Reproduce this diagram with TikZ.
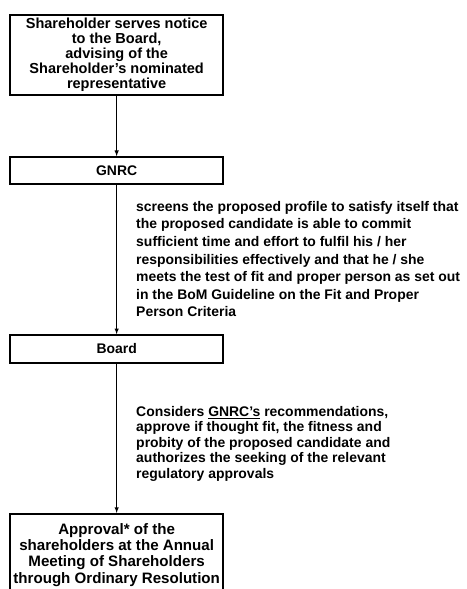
\documentclass[tikz,border=0pt]{standalone}
\usepackage{fontspec}
\setmainfont{Liberation Sans}
\usepackage{tikz}
\usetikzlibrary{arrows,positioning}

\begin{document}
\begin{tikzpicture}[
    box/.style={rectangle, draw, line width=1.3pt, minimum width=6.39cm,
                align=center, inner sep=2pt,
                font=\fontsize{12.4}{12.75}\selectfont\bfseries},
    note/.style={anchor=north west, align=left, inner sep=0pt,
                 font=\fontsize{11.9}{13.2}\selectfont\bfseries},
    arr/.style={->, >=latex, line width=0.7pt}
  ]

  \useasboundingbox (0,0) rectangle (14.01,-17.67);
  \clip (0,0) rectangle (14.01,-17.67);

  % Main vertical chain
  \node[box, minimum height=2.4cm, inner ysep=0pt] (notice) at (3.50, -1.65)
    {Shareholder serves notice\\to the Board,\\advising of the\\Shareholder's nominated\\representative};
  \node[box, minimum height=0.81cm, font=\fontsize{11.9}{13.2}\selectfont\bfseries] (gnrc) at (3.50, -5.115) {GNRC};
  \node[box, minimum height=0.84cm, font=\fontsize{11.9}{13.2}\selectfont\bfseries] (board) at (3.50, -10.47) {Board};
  \node[box, anchor=north, inner ysep=8pt, font=\fontsize{12.9}{14}\selectfont\bfseries] (approval) at (3.50, -15.39)
    {Approval* of the\\shareholders at the Annual\\Meeting of Shareholders\\through Ordinary Resolution};

  \draw[arr] (notice) -- (gnrc);
  \draw[arr] (gnrc) -- (board);
  \draw[arr] (board) -- (approval);

  % Side notes
  \node[note, font=\fontsize{11.9}{15}\selectfont\bfseries] (screen) at (4.08, -6.03)
    {screens the proposed profile to satisfy itself that\\
     the proposed candidate is able to commit\\
     sufficient time and effort to fulfil his / her\\
     responsibilities effectively and that he / she\\
     meets the test of fit and proper person as set out\\
     in the BoM Guideline on the Fit and Proper\\
     Person Criteria};
  \node[note] (consider) at (4.08, -12.18)
    {Considers \underline{GNRC's} recommendations,\\
     approve if thought fit, the fitness and\\
     probity of the proposed candidate and\\
     authorizes the seeking of the relevant\\
     regulatory approvals};

\end{tikzpicture}
\end{document}
